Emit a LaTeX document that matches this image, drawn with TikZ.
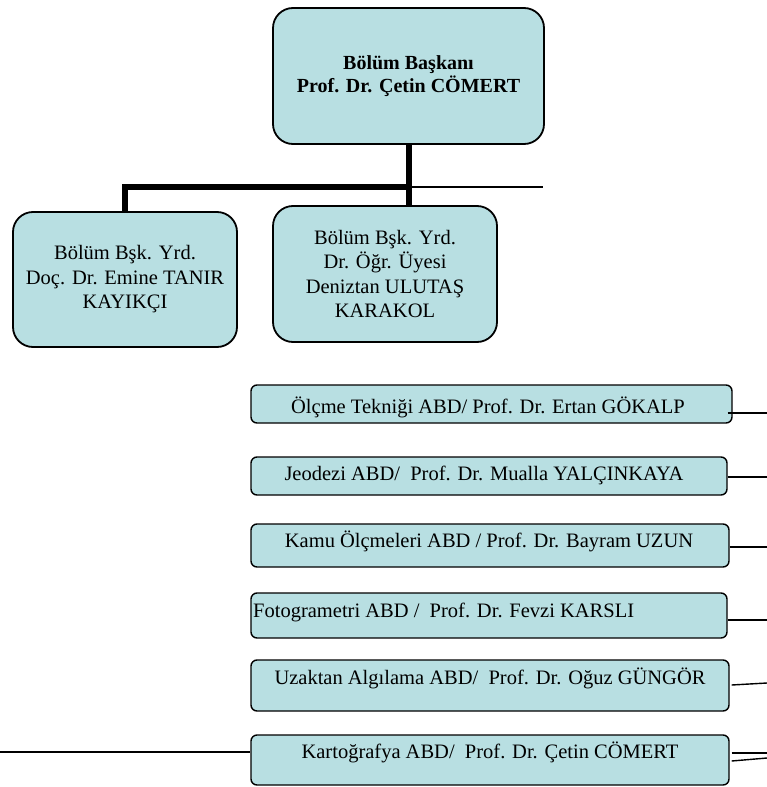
\documentclass[tikz,border=0pt]{standalone}
\usepackage{fontspec}
\setmainfont{Liberation Serif}
\definecolor{boxfill}{RGB}{184,223,226}
\begin{document}
\begin{tikzpicture}[x=1pt,y=-1pt,
  bigbox/.style={draw=black, line width=1.8pt, fill=boxfill, rounded corners=20pt, align=center, inner sep=0pt},
  abdbox/.style={draw=black, line width=1.4pt, fill=boxfill, rounded corners=6pt, inner sep=0pt},
  abdtext/.style={font=\fontsize{20.5}{24}\selectfont, inner sep=0pt, anchor=base},
  thick link/.style={line width=5.5pt},
  thin link/.style={line width=1.4pt}]
\useasboundingbox (0,0) rectangle (767,787);

% top and deputy boxes
\node[bigbox, minimum width=271pt, minimum height=136pt, font=\bfseries\fontsize{20}{23}\selectfont] (head) at (408.5,76) {Bölüm Başkanı\\Prof. Dr. Çetin CÖMERT};
\node[bigbox, minimum width=224pt, minimum height=135pt, font=\fontsize{20.5}{24.5}\selectfont] (dep1) at (125,279.5) {Bölüm Bşk. Yrd.\\Doç. Dr. Emine TANIR\\KAYIKÇI};
\node[bigbox, minimum width=224pt, minimum height=136pt, font=\fontsize{20.5}{24.5}\selectfont] (dep2) at (385,274) {Bölüm Bşk. Yrd.\\Dr. Öğr. Üyesi\\Deniztan ULUTAŞ\\KARAKOL};

% connectors between head and deputies
\coordinate (jn) at (409,187);
\coordinate (thinend) at (543,187);
\draw[thick link] (head.south -| jn) -- (dep2.north -| jn);
\draw[thick link] (jn) -- (dep1.north |- jn) -- (dep1.north);
\draw[thin link] (jn) -- (thinend);

% ABD boxes
\node[abdbox, minimum width=481pt, minimum height=38pt] (b1) at (491.5,404) {};
\node[abdbox, minimum width=476pt, minimum height=38pt] (b2) at (489,476) {};
\node[abdbox, minimum width=478pt, minimum height=43pt] (b3) at (490,545.5) {};
\node[abdbox, minimum width=476pt, minimum height=45pt] (b4) at (489,615.5) {};
\node[abdbox, minimum width=478pt, minimum height=51pt] (b5) at (490,685.5) {};
\node[abdbox, minimum width=478pt, minimum height=50pt] (b6) at (490,760) {};

\node[abdtext] (t1) at (488,413) {Ölçme Tekniği ABD/ Prof. Dr. Ertan GÖKALP};
\node[abdtext] (t2) at (484,480) {Jeodezi ABD/\ \ Prof. Dr. Mualla YALÇINKAYA};
\node[abdtext] (t3) at (489,547) {Kamu Ölçmeleri ABD / Prof. Dr. Bayram UZUN};
\node[abdtext, anchor=base west] (t4) at (253,617) {Fotogrametri ABD /\ \ Prof. Dr. Fevzi KARSLI};
\node[abdtext] (t5) at (490,684) {Uzaktan Algılama ABD/\ \ Prof. Dr. Oğuz GÜNGÖR};
\node[abdtext] (t6) at (490,758) {Kartoğrafya ABD/\ \ Prof. Dr. Çetin CÖMERT};

% side lines
\coordinate (r1) at (767,413);
\coordinate (r2) at (767,477);
\coordinate (r3) at (767,547);
\coordinate (r4) at (767,620);
\coordinate (r5) at (767,683);
\coordinate (r6a) at (767,753);
\coordinate (r6b) at (767,758);
\coordinate (l6) at (0,752);
\draw[thin link] ([xshift=-5pt]b1.east |- r1) -- (r1);
\draw[thin link] (b2.east |- r2) -- (r2);
\draw[thin link] (b3.east |- r3) -- (r3);
\draw[thin link] (b4.east |- r4) -- (r4);
\draw[thin link] ([shift={(2pt,0.5pt)}]b5.east) -- (r5);
\draw[thin link] ([xshift=2pt]b6.east |- r6a) -- (r6a);
\draw[thin link] ([shift={(2pt,0pt)}]b6.east |- 0,761) -- (r6b);
\draw[thin link] (l6) -- (b6.west |- l6);
\end{tikzpicture}
\end{document}
